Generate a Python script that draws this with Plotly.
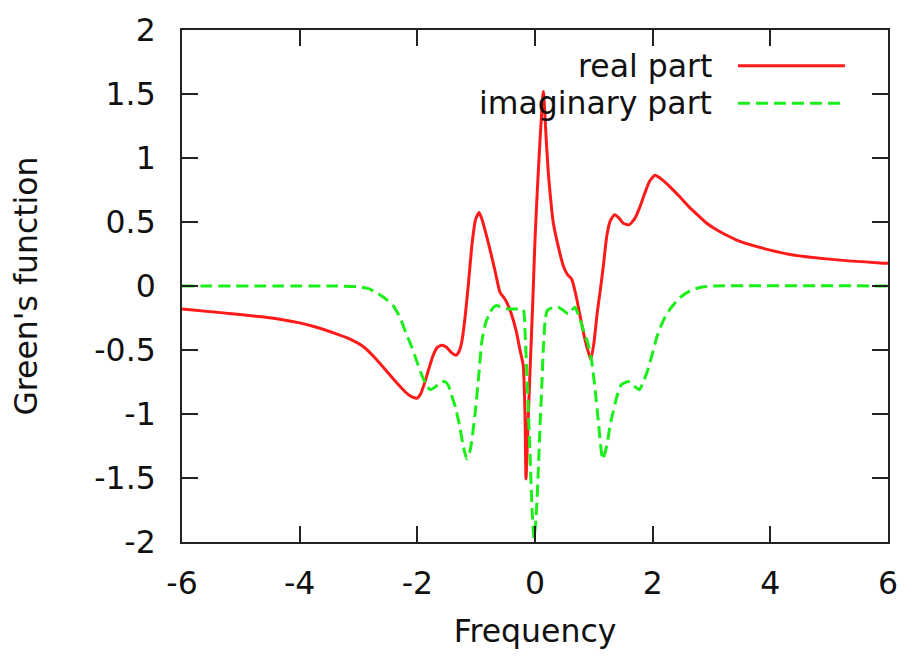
import plotly.graph_objects as go

# ---- data ----
real_x = [-6.0, -5.3, -4.58, -4.0, -3.73, -3.4, -3.17, -2.9, -2.71, -2.55, -2.37, -2.2, -2.1, -2.005,
          -1.94, -1.87, -1.80, -1.73, -1.66, -1.585, -1.50, -1.42, -1.34, -1.29, -1.245, -1.19, -1.13,
          -1.07, -1.01, -0.95, -0.90, -0.84, -0.765, -0.68, -0.595, -0.53, -0.48, -0.40, -0.32, -0.255,
          -0.20, -0.17, -0.153, -0.12, -0.085, -0.04, 0.0, 0.04, 0.085, 0.142, 0.19, 0.227, 0.27, 0.312,
          0.40, 0.482, 0.55, 0.624, 0.70, 0.765, 0.85, 0.947, 1.00, 1.06, 1.105, 1.16, 1.22, 1.28, 1.35,
          1.42, 1.50, 1.60, 1.70, 1.785, 1.87, 1.95, 2.04, 2.15, 2.295, 2.465, 2.635, 2.8, 2.92, 3.03, 3.2, 3.45,
          4.0, 4.335, 5.0, 5.865, 6.0]
real_y = [-0.179, -0.21, -0.244, -0.288, -0.32, -0.37, -0.41, -0.48, -0.566, -0.65, -0.747, -0.83, -0.865, -0.876,
          -0.84, -0.747, -0.64, -0.54, -0.48, -0.463, -0.48, -0.52, -0.54, -0.51, -0.437, -0.25, 0.027,
          0.33, 0.52, 0.574, 0.52, 0.42, 0.285, 0.12, -0.05, -0.09, -0.128, -0.22, -0.35, -0.50,
          -0.62, -1.0, -1.507, -1.1, -0.67, -0.15, 0.362, 0.75, 1.136, 1.52, 1.15, 0.878, 0.66, 0.49,
          0.30, 0.156, 0.09, 0.053, -0.08, -0.23, -0.42, -0.575, -0.45, -0.2, -0.05, 0.15, 0.39, 0.51, 0.556,
          0.535, 0.49, 0.478, 0.53, 0.62, 0.73, 0.82, 0.865, 0.835, 0.775, 0.695, 0.61, 0.54, 0.49, 0.455, 0.41, 0.355,
          0.28, 0.246, 0.21, 0.18, 0.177]

imag_x = [-6.0, -3.5, -3.0, -2.83, -2.7, -2.54, -2.4, -2.29, -2.2, -2.1, -2.0, -1.92, -1.84, -1.78,
          -1.70, -1.60, -1.53, -1.47, -1.42, -1.35, -1.275, -1.22, -1.16, -1.10, -1.02, -0.96, -0.905,
          -0.84, -0.765, -0.70, -0.65, -0.55, -0.455, -0.33, -0.20, -0.17, -0.14, -0.085, -0.05, -0.017,
          0.02, 0.056, 0.085, 0.114, 0.14, 0.17, 0.20, 0.227, 0.30, 0.397, 0.48, 0.567, 0.62, 0.68, 0.75,
          0.85, 0.90, 0.964, 1.02, 1.076, 1.15, 1.22, 1.28, 1.33, 1.40, 1.47, 1.587, 1.68, 1.773, 1.85,
          1.926, 2.00, 2.07, 2.18, 2.295, 2.465, 2.635, 2.8, 3.03, 6.0]
imag_y = [0.0, 0.0, -0.005, -0.02, -0.05, -0.10, -0.16, -0.25, -0.36, -0.47, -0.6, -0.70, -0.78, -0.81,
          -0.79, -0.75, -0.747, -0.78, -0.85, -0.95, -1.108, -1.25, -1.35, -1.28, -1.005, -0.72, -0.437,
          -0.29, -0.205, -0.165, -0.153, -0.17, -0.18, -0.18, -0.184, -0.35, -0.67, -1.31, -1.75, -1.97,
          -1.8, -1.443, -1.1, -0.80, -0.5, -0.28, -0.2, -0.184, -0.17, -0.166, -0.19, -0.218, -0.19, -0.166, -0.24,
          -0.385, -0.45, -0.59, -0.8, -1.056, -1.355, -1.25, -1.08, -0.98, -0.85, -0.77, -0.747, -0.78, -0.81, -0.74,
          -0.643, -0.52, -0.40, -0.27, -0.18, -0.09, -0.037, -0.012, 0.0, 0.0]

x_ticks = [-6, -4, -2, 0, 2, 4, 6]
x_tick_labels = ["-6", "-4", "-2", "0", "2", "4", "6"]
y_ticks = [-2, -1.5, -1, -0.5, 0, 0.5, 1, 1.5, 2]
y_tick_labels = ["-2", "-1.5", "-1", "-0.5", "0", "0.5", "1", "1.5", "2"]
series_names = ["real part", "imaginary part"]

RED = "#ff1a1a"
GREEN = "#1aef1a"
FONT = "DejaVu Sans, Liberation Sans, Arial, sans-serif"
FS = 31.5
TXT = "#111"

fig = go.Figure()
fig.add_trace(go.Scatter(x=real_x, y=real_y, mode="lines", name=series_names[0],
                         line=dict(color=RED, width=3, shape="spline", smoothing=0.5),
                         showlegend=False))
fig.add_trace(go.Scatter(x=imag_x, y=imag_y, mode="lines", name=series_names[1],
                         line=dict(color=GREEN, width=3, dash="12px,6px", shape="spline", smoothing=0.5),
                         showlegend=False))

# gnuplot-style key: text right-aligned, sample line to its right
key_rows = [(0.930, series_names[0], RED, "solid"), (0.857, series_names[1], GREEN, "12px,6px")]
for yk, txt, col, dash in key_rows:
    fig.add_annotation(xref="paper", yref="paper", x=0.7535, y=yk, text=txt, showarrow=False,
                       xanchor="right", yanchor="middle", font=dict(family=FONT, size=FS, color=TXT))
    fig.add_shape(type="line", xref="paper", yref="paper", x0=0.7875, x1=0.939, y0=yk, y1=yk,
                  line=dict(color=col, width=3, dash=dash))

axis_common = dict(showgrid=False, zeroline=False, showline=True, linecolor="#222", linewidth=2,
                   mirror="ticks", ticks="inside", ticklen=16, tickwidth=2, tickcolor="#222",
                   tickfont=dict(family=FONT, size=FS, color=TXT))

fig.update_xaxes(range=[-6, 6], tickvals=x_ticks, ticktext=x_tick_labels,
                 title=dict(text="Frequency", font=dict(family=FONT, size=FS, color=TXT), standoff=20),
                 ticklabelstandoff=12, **axis_common)
fig.update_yaxes(range=[-2, 2], tickvals=y_ticks, ticktext=y_tick_labels,
                 title=dict(text="Green's function", font=dict(family=FONT, size=FS, color=TXT), standoff=47),
                 ticklabelstandoff=18, **axis_common)

fig.update_layout(width=912, height=658, margin=dict(l=182, r=24, t=25, b=116),
                  plot_bgcolor="white", paper_bgcolor="white", font=dict(family=FONT))

fig.write_html("out.html")
